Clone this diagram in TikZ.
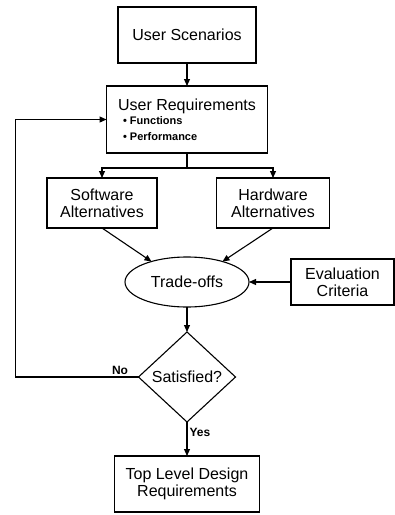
\documentclass[tikz,border=0pt]{standalone}
\usepackage{fontspec}
\setmainfont{Liberation Sans}
\usetikzlibrary{positioning,shapes.geometric,arrows.meta}

\tikzset{
  box/.style={draw, line width=1.1pt, align=center, inner sep=0pt, outer sep=0pt,
    font=\fontsize{16}{17}\selectfont},
  choice/.style={box, diamond, minimum width=97pt, minimum height=90pt},
  oval/.style={box, ellipse, minimum width=124pt, minimum height=50pt},
  arr/.style={line width=1.1pt, -{Triangle[length=7pt,width=6pt]}},
  lbl/.style={font=\fontsize{12}{13}\bfseries\selectfont, inner sep=2pt}
}

\begin{document}
\begin{tikzpicture}
  \useasboundingbox (0,0) rectangle (395pt,-515pt);
  % scenarios and requirements
  \node[box, minimum width=138pt, minimum height=56pt] (scen) at (187pt,-35pt) {User Scenarios}; %
  \node[box, below=23pt of scen, minimum width=161pt, minimum height=67pt, align=left] (req)
    {User Requirements\\[-3pt]
     {\fontsize{11}{13}\bfseries\selectfont\hspace*{5pt}\textbullet\ Functions}\\[-1pt]
     {\fontsize{11}{13}\bfseries\selectfont\hspace*{5pt}\textbullet\ Performance}}; %

  % alternatives
  \node[box, below=25pt of req, xshift=-85pt, minimum width=110pt, minimum height=50pt] (soft) {Software\\Alternatives}; %
  \node[box, below=25pt of req, xshift=86pt, minimum width=113pt, minimum height=50pt] (hard) {Hardware\\Alternatives}; %

  % trade-offs
  \node[oval, below=104pt of req] (trade) {Trade-offs}; %
  \node[box, right=42pt of trade, minimum width=103pt, minimum height=46pt] (eval) {Evaluation\\Criteria}; %
  \node[choice, below=25pt of trade] (sat) {Satisfied?}; %
  \node[box, below=34pt of sat, minimum width=145pt, minimum height=56pt] (top) {Top Level Design\\Requirements}; %

  % edges
  \path (req.south) ++(0,-15pt) coordinate (split);
  \draw[line width=1.1pt] (req) -- (split);
  \draw[arr] (split) -| (soft);
  \draw[arr] (split) -| (hard);
  \draw[arr] (scen) -- (req);
  \draw[arr] (soft.south) -- (trade.150);
  \draw[arr] (hard.south) -- (trade.30);
  \draw[arr] (eval) -- (trade);
  \draw[arr] (trade) -- (sat);
  \draw[arr] (sat) -- node[lbl, right, pos=0.3] {Yes} (top);
  \draw[arr] (sat.west) -- node[lbl, above, pos=0.15] {No} ++(-123pt,0) |- (req.west);
\end{tikzpicture}
\end{document}
